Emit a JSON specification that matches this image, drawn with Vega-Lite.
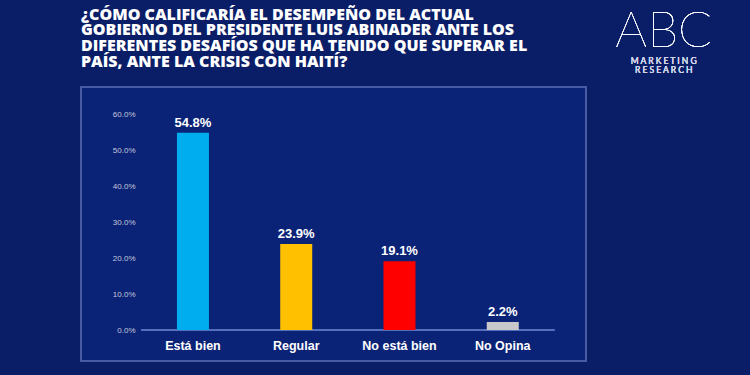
{
  "$schema": "https://vega.github.io/schema/vega-lite/v6.json",
  "width": 505,
  "height": 274,
  "autosize": {"type": "none"},
  "padding": {"left": 81, "top": 87, "right": 164, "bottom": 14},
  "background": "#0A1E68",
  "title": {
    "text": ["¿CÓMO CALIFICARÍA EL DESEMPEÑO DEL ACTUAL", "GOBIERNO DEL PRESIDENTE LUIS ABINADER  ANTE LOS", "DIFERENTES DESAFÍOS QUE HA TENIDO QUE SUPERAR EL", "PAÍS, ANTE LA CRISIS CON HAITÍ?"],
    "anchor": "start",
    "frame": "group",
    "font": "Open Sans",
    "fontWeight": 800,
    "fontSize": 16,
    "lineHeight": 15.8,
    "color": "#FFFFFF",
    "offset": -63
  },
  "config": {
    "view": {"stroke": "#5D70B4", "strokeWidth": 1.5, "fill": "#0B2376"},
    "font": "Liberation Sans"
  },
  "data": {
    "values": [
      {"cat": "Está bien", "pct": 0.548},
      {"cat": "Regular", "pct": 0.239},
      {"cat": "No está bien", "pct": 0.191},
      {"cat": "No Opina", "pct": 0.022}
    ]
  },
  "encoding": {
    "x": {
      "field": "cat",
      "type": "nominal",
      "sort": null,
      "scale": {"domain": ["Está bien", "Regular", "No está bien", "No Opina"], "paddingInner": 0.69, "paddingOuter": 0.79, "align": 0.588},
      "axis": {
        "title": null,
        "orient": "bottom",
        "offset": -31,
        "domain": false,
        "ticks": false,
        "labelAngle": 0,
        "labelPadding": 9,
        "labelFont": "Liberation Sans",
        "labelFontWeight": "bold",
        "labelFontSize": 12.5,
        "labelColor": "#FFFFFF"
      }
    }
  },
  "layer": [
    {
      "mark": {"type": "rule", "color": "#5470BE", "strokeWidth": 1.5, "xOffset": -51.7, "x2Offset": 51.7},
      "encoding": {
        "x": {"datum": "Está bien"},
        "x2": {"datum": "No Opina"},
        "y": {"datum": 0}
      }
    },
    {
      "mark": {"type": "bar"},
      "encoding": {
        "y": {
          "field": "pct",
          "type": "quantitative",
          "scale": {"domain": [-0.0861, 0.675], "nice": false, "zero": false},
          "axis": {
            "title": null,
            "orient": "left",
            "offset": -61,
            "values": [0, 0.1, 0.2, 0.3, 0.4, 0.5, 0.6],
            "format": ".1%",
            "domain": false,
            "ticks": false,
            "grid": false,
            "labelPadding": 7,
            "labelFontSize": 8,
            "labelColor": "#C3C8DC"
          }
        },
        "y2": {"datum": 0},
        "color": {
          "field": "cat",
          "type": "nominal",
          "sort": null,
          "scale": {"domain": ["Está bien", "Regular", "No está bien", "No Opina"], "range": ["#00AEEF", "#FFC000", "#FF0000", "#C8C8CC"]},
          "legend": null
        }
      }
    },
    {
      "mark": {"type": "text", "dy": -6, "baseline": "alphabetic", "fontWeight": "bold", "fontSize": 13, "color": "#FFFFFF", "font": "Liberation Sans"},
      "encoding": {
        "y": {"field": "pct", "type": "quantitative"},
        "text": {"field": "pct", "type": "quantitative", "format": ".1%"}
      }
    },
    {
      "mark": {"type": "text", "dx": 161, "baseline": "top", "fontSize": 50, "font": "Lato", "fontWeight": 200, "color": "#FFFFFF"},
      "encoding": {
        "x": {"datum": "No Opina"},
        "y": {"datum": 0.897},
        "text": {"value": "ABC"}
      }
    },
    {
      "mark": {"type": "text", "dx": 161, "baseline": "alphabetic", "fontSize": 8.5, "font": "Lato", "color": "#D0D4E6"},
      "encoding": {
        "x": {"datum": "No Opina"},
        "y": {"datum": 0.739},
        "text": {"value": "M  A  R  K  E  T  I  N  G"}
      }
    },
    {
      "mark": {"type": "text", "dx": 161, "baseline": "alphabetic", "fontSize": 8.5, "font": "Lato", "color": "#D0D4E6"},
      "encoding": {
        "x": {"datum": "No Opina"},
        "y": {"datum": 0.7125},
        "text": {"value": "R  E  S  E  A  R  C  H"}
      }
    }
  ]
}
